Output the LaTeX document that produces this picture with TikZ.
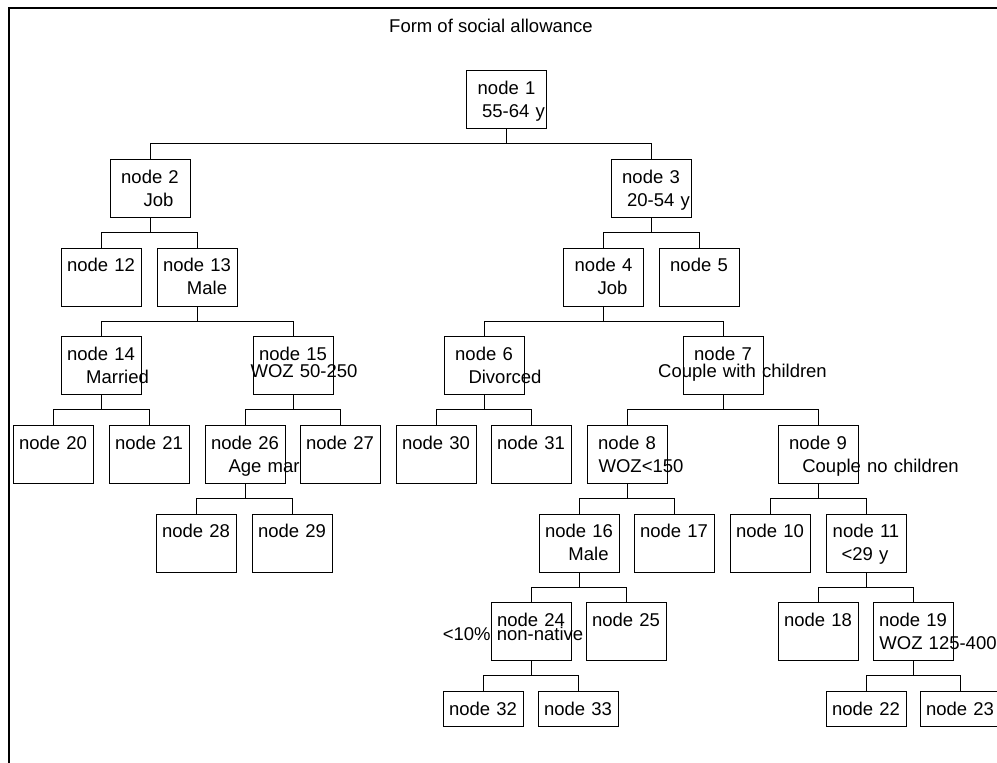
\documentclass[tikz,border=0pt]{standalone}
\usepackage{fontspec}
\setmainfont{Liberation Sans}
\newcommand{\nudge}[2]{\makebox[0pt]{\hspace*{#1}#2\hspace*{-#1}}}

\begin{document}
\begin{tikzpicture}[
  x=1pt, y=-1pt,
  box/.style={draw, line width=0.9pt, anchor=north, text width=80pt, align=center,
              inner xsep=0pt, inner ysep=0pt, text height=24pt, text depth=34pt,
              font=\fontsize{18.5pt}{23pt}\selectfont},
  leaf/.style={box, text depth=11pt},
  link/.style={line width=0.9pt},
  frame/.style={line width=1.4pt}
]
\useasboundingbox (0,0) rectangle (997,763);
\draw[frame] (9,763) -- (9,8) -- (997,8);
\node[anchor=base, font=\fontsize{18.5pt}{23pt}\selectfont] (title) at (491,32) {Form of social allowance};

% level 1 and 2
\node[box] (n1) at (506.5,70) {node 1\\\nudge{7pt}{55-64 y}};
\node[box] (n2) at (150,159) {node 2\\\nudge{8.5pt}{Job}};
\node[box] (n3) at (651,159) {node 3\\\nudge{7.5pt}{20-54 y}};

% level 3
\node[box] (n12) at (101,247.5) {node 12};
\node[box] (n13) at (197,247.5) {node 13\\\nudge{10pt}{Male}};
\node[box] (n4) at (603.5,247.5) {node 4\\\nudge{9pt}{Job}};
\node[box] (n5) at (699,247.5) {node 5};

% level 4
\node[box] (n14) at (101,336) {node 14\\\nudge{16.5pt}{Married}};
\node[box] (n15) at (293,336) {node 15\\[-6.3pt]\nudge{11pt}{WOZ 50-250}};
\node[box] (n6) at (484,336) {node 6\\\nudge{21pt}{Divorced}};
\node[box] (n7) at (723,336) {node 7\\[-6.3pt]\nudge{19.5pt}{Couple with children}};

% level 5
\node[box] (n20) at (53,425) {node 20};
\node[box] (n21) at (149,425) {node 21};
\node[box] (n26) at (245,425) {node 26\\\nudge{19pt}{Age mar}};
\node[box] (n27) at (340,425) {node 27};
\node[box] (n30) at (436,425) {node 30};
\node[box] (n31) at (531,425) {node 31};
\node[box] (n8) at (627,425) {node 8\\\nudge{14pt}{WOZ<150}};
\node[box] (n9) at (818,425) {node 9\\\nudge{62.5pt}{Couple no children}};

% level 6
\node[box] (n28) at (196,513.5) {node 28};
\node[box] (n29) at (292,513.5) {node 29};
\node[box] (n16) at (579,513.5) {node 16\\\nudge{9.5pt}{Male}};
\node[box] (n17) at (674,513.5) {node 17};
\node[box] (n10) at (770,513.5) {node 10};
\node[box] (n11) at (866,513.5) {node 11\\\nudge{-1pt}{<29 y}};

% level 7
\node[box] (n24) at (531,602) {node 24\\[-8.7pt]\nudge{-18pt}{<10\% non-native}};
\node[box] (n25) at (626,602) {node 25};
\node[box] (n18) at (818,602) {node 18};
\node[box] (n19) at (913,602) {node 19\\\nudge{25pt}{WOZ 125-400}};

% level 8
\node[leaf] (n32) at (483,691) {node 32};
\node[leaf] (n33) at (578,691) {node 33};
\node[leaf] (n22) at (866,691) {node 22};
\node[leaf] (n23) at (960,691) {node 23};

% splits
\draw[link] (n1.south) -- ++(0,15) -| (n2.north);
\draw[link] (n1.south) -- ++(0,15) -| (n3.north);
\draw[link] (n2.south) -- ++(0,15) -| (n12.north);
\draw[link] (n2.south) -- ++(0,15) -| (n13.north);
\draw[link] (n3.south) -- ++(0,15) -| (n4.north);
\draw[link] (n3.south) -- ++(0,15) -| (n5.north);
\draw[link] (n13.south) -- ++(0,15) -| (n14.north);
\draw[link] (n13.south) -- ++(0,15) -| (n15.north);
\draw[link] (n4.south) -- ++(0,15) -| (n6.north);
\draw[link] (n4.south) -- ++(0,15) -| (n7.north);
\draw[link] (n14.south) -- ++(0,15) -| (n20.north);
\draw[link] (n14.south) -- ++(0,15) -| (n21.north);
\draw[link] (n15.south) -- ++(0,15) -| (n26.north);
\draw[link] (n15.south) -- ++(0,15) -| (n27.north);
\draw[link] (n6.south) -- ++(0,15) -| (n30.north);
\draw[link] (n6.south) -- ++(0,15) -| (n31.north);
\draw[link] (n7.south) -- ++(0,15) -| (n8.north);
\draw[link] (n7.south) -- ++(0,15) -| (n9.north);
\draw[link] (n26.south) -- ++(0,15) -| (n28.north);
\draw[link] (n26.south) -- ++(0,15) -| (n29.north);
\draw[link] (n8.south) -- ++(0,15) -| (n16.north);
\draw[link] (n8.south) -- ++(0,15) -| (n17.north);
\draw[link] (n9.south) -- ++(0,15) -| (n10.north);
\draw[link] (n9.south) -- ++(0,15) -| (n11.north);
\draw[link] (n16.south) -- ++(0,15) -| (n24.north);
\draw[link] (n16.south) -- ++(0,15) -| (n25.north);
\draw[link] (n11.south) -- ++(0,15) -| (n18.north);
\draw[link] (n11.south) -- ++(0,15) -| (n19.north);
\draw[link] (n24.south) -- ++(0,15) -| (n32.north);
\draw[link] (n24.south) -- ++(0,15) -| (n33.north);
\draw[link] (n19.south) -- ++(0,15) -| (n22.north);
\draw[link] (n19.south) -- ++(0,15) -| (n23.north);
\end{tikzpicture}
\end{document}
